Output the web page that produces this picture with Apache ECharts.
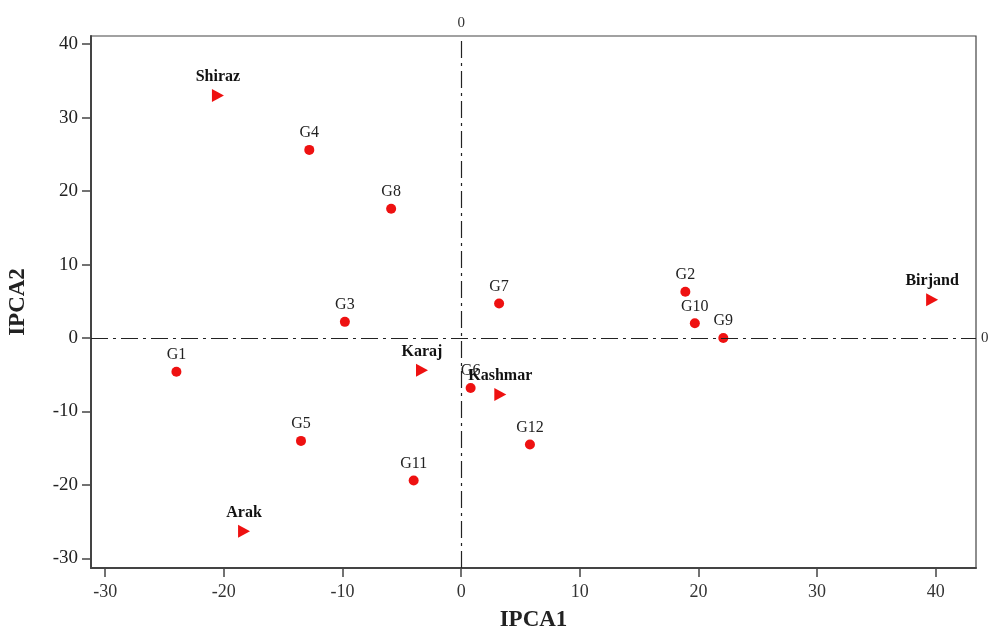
<!DOCTYPE html>
<html>
<head>
<meta charset="utf-8">
<script src="https://cdn.jsdelivr.net/npm/echarts@6/dist/echarts.min.js"></script>
<style>html,body{margin:0;padding:0;background:#fff}#c{width:993px;height:628px}</style>
</head>
<body>
<div id="c"></div>
<script>
const genotypes = ['G1','G2','G3','G4','G5','G6','G7','G8','G9','G10','G11','G12'];
const genoIPCA1 = [-24.0, 18.9, -9.8, -12.8, -13.5, 0.8, 3.2, -5.9, 22.1, 19.7, -4.0, 5.8];
const genoIPCA2 = [-4.6, 6.3, 2.2, 25.6, -14.0, -6.8, 4.7, 17.6, 0.0, 2.0, -19.4, -14.5];
const environments = ['Shiraz','Birjand','Karaj','Kashmar','Arak'];
const envIPCA1 = [-20.5, 39.7, -3.3, 3.3, -18.3];
const envIPCA2 = [33.0, 5.2, -4.4, -7.7, -26.3];
const xTicks = [-30, -20, -10, 0, 10, 20, 30, 40];
const yTicks = [-30, -20, -10, 0, 10, 20, 30, 40];

const genoData = genotypes.map((n,i)=>({name:n, value:[genoIPCA1[i], genoIPCA2[i]]}));
const envData = environments.map((n,i)=>({name:n, value:[envIPCA1[i], envIPCA2[i]]}));

const serif = 'Liberation Serif';
const chart = echarts.init(document.getElementById('c'), null, {renderer:'canvas'});
chart.setOption({
  animation:false,
  backgroundColor:'#fff',
  grid:{left:91, right:17, top:36, bottom:60, outerBoundsMode:'none', containLabel:false,
    show:true, borderColor:'#444', borderWidth:1.2, backgroundColor:'transparent'},
  xAxis:{
    type:'value', min:-31.2, max:43.4,
    name:'IPCA1', nameLocation:'middle', nameGap:41,
    nameTextStyle:{fontFamily:serif, fontWeight:'bold', fontSize:23, color:'#222'},
    axisLine:{show:true, onZero:false, lineStyle:{color:'#444', width:2}},
    axisTick:{show:true, length:9, customValues:xTicks, lineStyle:{color:'#444', width:1.5}},
    axisLabel:{fontFamily:serif, fontSize:18, color:'#333', margin:15, customValues:xTicks},
    splitLine:{show:false}
  },
  yAxis:{
    type:'value', min:-31.3, max:41.1,
    name:'IPCA2', nameLocation:'middle', nameGap:61, nameRotate:90,
    nameTextStyle:{fontFamily:serif, fontWeight:'bold', fontSize:23, color:'#222'},
    axisLine:{show:true, onZero:false, lineStyle:{color:'#444', width:2}},
    axisTick:{show:true, length:9, customValues:yTicks, lineStyle:{color:'#444', width:1.5}},
    axisLabel:{fontFamily:serif, fontSize:19, color:'#222', margin:13, customValues:yTicks},
    splitLine:{show:false}
  },
  series:[
    {
      type:'scatter', name:'Genotypes', data:genoData,
      symbol:'circle', symbolSize:10,
      itemStyle:{color:'#ee1111', opacity:1},
      label:{show:true, position:'top', distance:4, formatter:'{b}',
        fontFamily:serif, fontSize:16, color:'#222', opacity:1},
      markLine:{
        silent:true, symbol:['none','none'],
        lineStyle:{color:'#222', width:1.2, type:[17,5,3,5], opacity:1},
        label:{show:true, position:'end', formatter:'0', fontFamily:serif, fontSize:15, color:'#333'},
        data:[{xAxis:0},{yAxis:0}]
      },
      z:3
    },
    {
      type:'scatter', name:'Environments', data:envData,
      symbol:'triangle', symbolSize:[13,12], symbolRotate:-90,
      itemStyle:{color:'#ee1111', opacity:1},
      label:{show:true, position:'top', distance:4, formatter:'{b}',
        fontFamily:serif, fontSize:16, fontWeight:'bold', color:'#111', opacity:1, rotate:0},
      z:4
    }
  ]
});
</script>
</body>
</html>
